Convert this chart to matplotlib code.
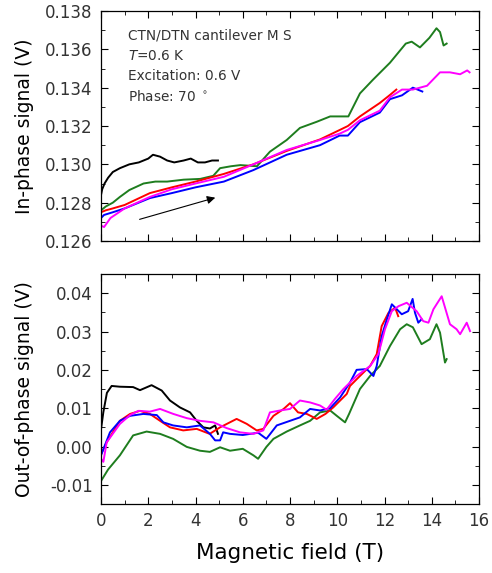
import matplotlib
matplotlib.use('Agg')
import matplotlib.pyplot as plt
from matplotlib.ticker import MultipleLocator

plt.rcParams['font.family'] = ['DejaVu Sans']

# ---- in-phase signal (top panel) ----
b_in_x = [0, 0.05, 0.15, 0.3, 0.5, 0.8, 1.2, 1.6, 2.0, 2.2, 2.5, 2.8, 3.1, 3.5, 3.8, 4.1, 4.4, 4.7, 4.95]
b_in_y = [0.1284, 0.1287, 0.1290, 0.1293, 0.1296, 0.1298, 0.1300, 0.1301, 0.1303, 0.1305, 0.1304,
          0.1302, 0.1301, 0.1302, 0.1303, 0.1301, 0.1301, 0.1302, 0.1302]

g_in_x = [0, 0.2, 0.5, 0.8, 1.2, 1.8, 2.3, 2.8, 3.5, 4.2, 4.75, 5.04, 5.5, 5.9, 6.6, 7.15, 7.86, 8.42,
          9.13, 9.7, 10.1, 10.47, 10.96, 11.5, 12.23, 12.9, 13.15, 13.5, 13.9, 14.2, 14.35, 14.5, 14.63]
g_in_y = [0.1276, 0.1278, 0.1280, 0.1283, 0.12866, 0.1290, 0.1291, 0.1291, 0.1292, 0.12924, 0.1294,
          0.1298, 0.1299, 0.12996, 0.1299, 0.13066, 0.13127, 0.1319, 0.13222, 0.1325, 0.1325, 0.1325,
          0.1337, 0.1344, 0.1353, 0.1363, 0.1364, 0.1361, 0.1366, 0.1371, 0.1369, 0.1362, 0.1363]

r_in_x = [0, 0.2, 0.5, 1.0, 2.07, 3.0, 4.0, 5.2, 6.45, 7.86, 9.27, 10.1, 10.45, 10.96, 11.8, 12.23, 12.5]
r_in_y = [0.1275, 0.1276, 0.1277, 0.12788, 0.1285, 0.1288, 0.1291, 0.1295, 0.1300, 0.1307, 0.1313,
          0.13179, 0.1320, 0.1325, 0.1332, 0.13362, 0.1339]

bl_in_x = [0, 0.13, 0.5, 1.0, 2.07, 3.0, 4.0, 5.2, 6.45, 7.86, 9.27, 10.1, 10.45, 10.96, 11.8, 12.23,
           12.74, 13.2, 13.6]
bl_in_y = [0.1272, 0.12736, 0.1275, 0.1277, 0.12824, 0.1285, 0.1288, 0.1291, 0.1297, 0.1305, 0.1310,
           0.1315, 0.1315, 0.1322, 0.1327, 0.1334, 0.1336, 0.1340, 0.1338]

m_in_x = [0, 0.13, 0.4, 1.0, 2.07, 3.0, 4.0, 5.2, 6.45, 7.86, 9.27, 10.1, 10.45, 10.96, 11.8, 12.23,
          12.74, 13.2, 13.8, 14.35, 14.77, 15.2, 15.5, 15.6]
m_in_y = [0.1268, 0.12673, 0.1272, 0.1277, 0.1283, 0.1287, 0.1290, 0.12935, 0.1300, 0.13075, 0.13127,
          0.1316, 0.1318, 0.1323, 0.1328, 0.1335, 0.1339, 0.1339, 0.1341, 0.1348, 0.1348, 0.1347,
          0.1349, 0.1348]

# ---- out-of-phase signal (bottom panel) ----
b_out_x = [0, 0.1, 0.25, 0.45, 0.8, 1.36, 1.65, 2.14, 2.57, 2.92, 3.34, 3.77, 4.05, 4.33, 4.61, 4.83, 4.95]
b_out_y = [0.0045, 0.0090, 0.0140, 0.0158, 0.0156, 0.0155, 0.0147, 0.0160, 0.0146, 0.0120, 0.0102,
           0.0089, 0.0067, 0.0050, 0.0047, 0.0055, 0.0033]

g_out_x = [0, 0.3, 0.8, 1.36, 1.93, 2.5, 3.05, 3.63, 4.19, 4.61, 5.04, 5.46, 6.0, 6.45, 6.65, 7.0, 7.3,
           7.86, 8.42, 8.85, 9.27, 9.7, 9.98, 10.33, 10.5, 10.96, 11.39, 11.8, 12.23, 12.66, 12.94, 13.2,
           13.57, 13.92, 14.2, 14.35, 14.56, 14.63]
g_out_y = [-0.0090, -0.0060, -0.0023, 0.0029, 0.0039, 0.0033, 0.0020, -0.0001, -0.0011, -0.0014,
           -0.0002, -0.0011, -0.0006, -0.0023, -0.0032, -0.0001, 0.0020, 0.0039, 0.0055, 0.0067, 0.0089,
           0.0094, 0.0080, 0.0063, 0.0085, 0.0150, 0.0184, 0.0210, 0.0262, 0.0306, 0.0319, 0.0311, 0.0267,
           0.0280, 0.0319, 0.0297, 0.0219, 0.0228]

r_out_x = [0, 0.24, 0.8, 1.23, 1.65, 2.07, 2.5, 2.92, 3.48, 4.05, 4.6, 5.04, 5.74, 6.17, 6.59, 6.87, 7.3,
           7.73, 8.0, 8.34, 8.71, 9.13, 9.5, 9.83, 10.4, 10.54, 10.96, 11.39, 11.67, 11.88, 12.17, 12.45,
           12.58]
r_out_y = [-0.0020, 0.0011, 0.0067, 0.0085, 0.0093, 0.0085, 0.0067, 0.0050, 0.0042, 0.0046, 0.0033,
           0.0050, 0.0072, 0.0059, 0.0042, 0.0046, 0.0080, 0.0098, 0.0113, 0.0089, 0.0085, 0.0072,
           0.0085, 0.0102, 0.0137, 0.0158, 0.0184, 0.0210, 0.0241, 0.0314, 0.0349, 0.0362, 0.0340]

bl_out_x = [0, 0.38, 0.8, 1.23, 1.79, 2.36, 2.64, 3.05, 3.63, 4.19, 4.61, 4.83, 5.04, 5.17, 5.46, 6.0,
            6.65, 7.0, 7.44, 8.0, 8.42, 8.85, 9.27, 9.7, 10.12, 10.54, 10.82, 11.25, 11.53, 11.67, 11.88,
            12.1, 12.31, 12.52, 12.73, 13.0, 13.19, 13.29, 13.43, 13.57]
bl_out_y = [-0.0023, 0.0037, 0.0067, 0.0080, 0.0085, 0.0082, 0.0063, 0.0055, 0.0050, 0.0055, 0.0033,
            0.0016, 0.0016, 0.0037, 0.0033, 0.0030, 0.0036, 0.0020, 0.0055, 0.0067, 0.0076, 0.0098,
            0.0094, 0.0100, 0.0128, 0.0167, 0.0200, 0.0202, 0.0184, 0.0210, 0.0288, 0.0332, 0.0371,
            0.0358, 0.0345, 0.0353, 0.0385, 0.0349, 0.0323, 0.0332]

m_out_x = [0, 0.1, 0.24, 0.8, 1.23, 1.58, 2.07, 2.5, 3.06, 3.63, 4.19, 4.76, 5.32, 5.88, 6.45, 6.87,
           7.15, 7.58, 8.0, 8.42, 8.85, 9.27, 9.55, 9.9, 10.26, 10.82, 11.39, 11.74, 12.02, 12.31, 12.59,
           12.94, 13.36, 13.64, 13.86, 14.07, 14.42, 14.77, 15.05, 15.2, 15.48, 15.62]
m_out_y = [-0.0032, -0.0040, 0.0011, 0.0059, 0.0082, 0.0093, 0.0091, 0.0098, 0.0085, 0.0074, 0.0067,
           0.0063, 0.0048, 0.0037, 0.0033, 0.0042, 0.0089, 0.0094, 0.0098, 0.0120, 0.0115, 0.0107,
           0.0096, 0.0124, 0.0150, 0.0184, 0.0210, 0.0241, 0.0306, 0.0353, 0.0366, 0.0375, 0.0353,
           0.0327, 0.0323, 0.0358, 0.0392, 0.0319, 0.0306, 0.0293, 0.0323, 0.0301]

info_lines = ['CTN/DTN cantilever M S', '$T$=0.6 K', 'Excitation: 0.6 V', 'Phase: 70 $^\\circ$']

GREEN = '#1e7d1e'
lw = 1.4

fig = plt.figure(figsize=(4.92, 5.73), dpi=100)
ax1 = fig.add_axes([0.2053, 0.5794, 0.7683, 0.4014])
ax2 = fig.add_axes([0.2053, 0.1204, 0.7683, 0.4014])

ax1.plot(b_in_x, b_in_y, color='black', lw=lw)
ax1.plot(g_in_x, g_in_y, color=GREEN, lw=lw)
ax1.plot(r_in_x, r_in_y, color='red', lw=lw)
ax1.plot(bl_in_x, bl_in_y, color='blue', lw=lw)
ax1.plot(m_in_x, m_in_y, color='magenta', lw=lw)

ax2.plot(b_out_x, b_out_y, color='black', lw=lw)
ax2.plot(g_out_x, g_out_y, color=GREEN, lw=lw)
ax2.plot(r_out_x, r_out_y, color='red', lw=lw)
ax2.plot(bl_out_x, bl_out_y, color='blue', lw=lw)
ax2.plot(m_out_x, m_out_y, color='magenta', lw=lw)

# arrow showing sweep direction
ax1.annotate('', xy=(4.95, 0.1283), xytext=(1.52, 0.12709),
             arrowprops=dict(arrowstyle='-|>', color='black', lw=0.8, mutation_scale=12))

for i, s in enumerate(info_lines):
    ax1.text(1.15, 0.1367 - i * 0.00105, s, fontsize=9.8, color='#333333', va='center')

ax1.set_xlim(0, 16)
ax1.set_ylim(0.126, 0.138)
ax1.yaxis.set_major_locator(MultipleLocator(0.002))
ax1.yaxis.set_minor_locator(MultipleLocator(0.001))
ax1.yaxis.set_major_formatter(plt.FormatStrFormatter('%.3f'))
ax1.set_ylabel('In-phase signal (V)', fontsize=13.5)
ax1.tick_params(axis='x', labelbottom=False)

ax2.set_xlim(0, 16)
ax2.set_ylim(-0.015, 0.045)
ax2.yaxis.set_major_locator(MultipleLocator(0.01))
ax2.yaxis.set_minor_locator(MultipleLocator(0.005))
ax2.yaxis.set_major_formatter(plt.FormatStrFormatter('%.2f'))
ax2.set_ylabel('Out-of-phase signal (V)', fontsize=13.5)
ax2.set_xlabel('Magnetic field (T)', fontsize=15.5, labelpad=9)

for ax in (ax1, ax2):
    ax.xaxis.set_major_locator(MultipleLocator(2))
    ax.xaxis.set_minor_locator(MultipleLocator(1))
    ax.tick_params(which='both', direction='in', top=True, right=True, labelcolor='#333333',
                   labelsize=12, pad=6)
    ax.tick_params(which='major', length=5)
    ax.tick_params(which='minor', length=3)
    ax.yaxis.set_label_coords(-0.178, 0.5)
    for sp in ax.spines.values():
        sp.set_linewidth(0.9)

fig.savefig('out.png', dpi=100)
